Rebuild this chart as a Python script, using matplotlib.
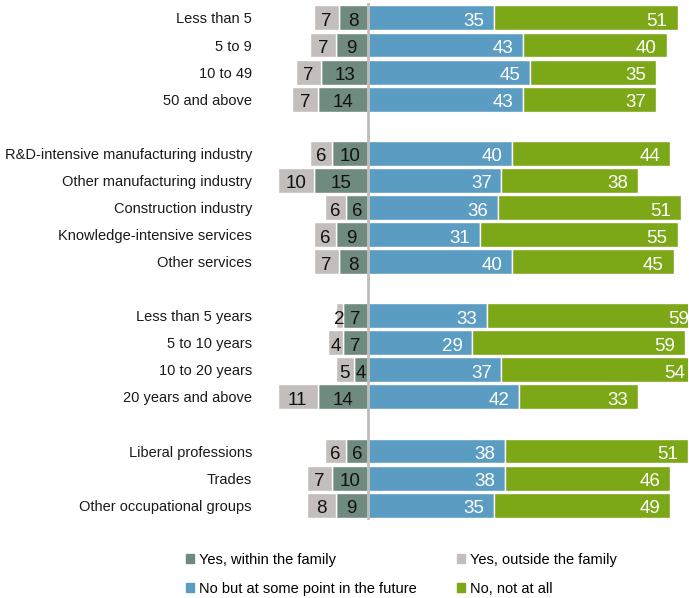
import numpy as np
import matplotlib
matplotlib.use('Agg')
import matplotlib.pyplot as plt
from matplotlib.patches import Patch

plt.rcParams['font.family'] = ['Liberation Sans', 'DejaVu Sans']

# --- Daten (Anteile in %) ---
categories = [
    'Less than 5', '5 to 9', '10 to 49', '50 and above', None,
    'R&D-intensive manufacturing industry', 'Other manufacturing industry',
    'Construction industry', 'Knowledge-intensive services', 'Other services', None,
    'Less than 5 years', '5 to 10 years', '10 to 20 years', '20 years and above', None,
    'Liberal professions', 'Trades', 'Other occupational groups',
]
within_family = [8, 9, 13, 14, None, 10, 15, 6, 9, 8, None, 7, 7, 4, 14, None, 6, 10, 9]
outside_family = [7, 7, 7, 7, None, 6, 10, 6, 6, 7, None, 2, 4, 5, 11, None, 6, 7, 8]
future = [35, 43, 45, 43, None, 40, 37, 36, 31, 40, None, 33, 29, 37, 42, None, 38, 38, 35]
not_at_all = [51, 40, 35, 37, None, 44, 38, 51, 55, 45, None, 59, 59, 54, 33, None, 51, 46, 49]

C_WITHIN = '#6f8b80'
C_OUTSIDE = '#c3bebb'
C_FUTURE = '#5b9cc2'
C_NOT = '#7ca716'

fig = plt.figure(figsize=(6.89, 5.98), dpi=100)
ax = fig.add_axes([0.3878, 0.1304, 0.6113, 0.8645])

H = 0.92
DY = 0.3  # Grundlinie der Zahlen unterhalb der Balkenmitte
for i, cat in enumerate(categories):
    if cat is None:
        continue
    w, o, f, n = within_family[i], outside_family[i], future[i], not_at_all[i]
    kw = dict(height=H, edgecolor='white', linewidth=1)
    ax.barh(i, -w, color=C_WITHIN, **kw)
    ax.barh(i, -o, left=-w, color=C_OUTSIDE, **kw)
    ax.barh(i, f, color=C_FUTURE, **kw)
    ax.barh(i, n, left=f, color=C_NOT, **kw)

    tk = dict(va='baseline', fontsize=13.5)
    ax.text(-w / 2, i + DY, str(w), ha='center', color='#111111', **tk)
    ax.text(-w - o / 2, i + DY, str(o), ha='center', color='#111111', **tk)
    ax.text(f - 2.6, i + DY, str(f), ha='right', color='white', **tk)
    ax.text(f + n - 2.8, i + DY, str(n), ha='right', color='white', clip_on=True, **tk)

ax.axvline(0, color='#bdbdbd', linewidth=2, zorder=5)

ax.set_xlim(-28, 89)
ax.set_ylim(len(categories) - 0.45, -0.55)
ticks = [i for i, c in enumerate(categories) if c is not None]
ax.set_yticks(ticks)
ax.set_yticklabels([categories[i] for i in ticks], fontsize=10.5, color='#1a1a1a')
ax.tick_params(axis='y', length=0, pad=11)
ax.set_xticks([])
for s in ax.spines.values():
    s.set_visible(False)

handles = [
    Patch(color=C_WITHIN, label='Yes, within the family'),
    Patch(color=C_FUTURE, label='No but at some point in the future'),
    Patch(color=C_OUTSIDE, label='Yes, outside the family'),
    Patch(color=C_NOT, label='No, not at all'),
]
fig.legend(handles=handles, ncol=2, loc='upper left', bbox_to_anchor=(0.262, 0.085),
           frameon=False, fontsize=10.5, handlelength=0.55, handleheight=0.55,
           handletextpad=0.3, columnspacing=2.8, labelspacing=1.0, borderaxespad=0)

fig.savefig('out.png', dpi=100)
